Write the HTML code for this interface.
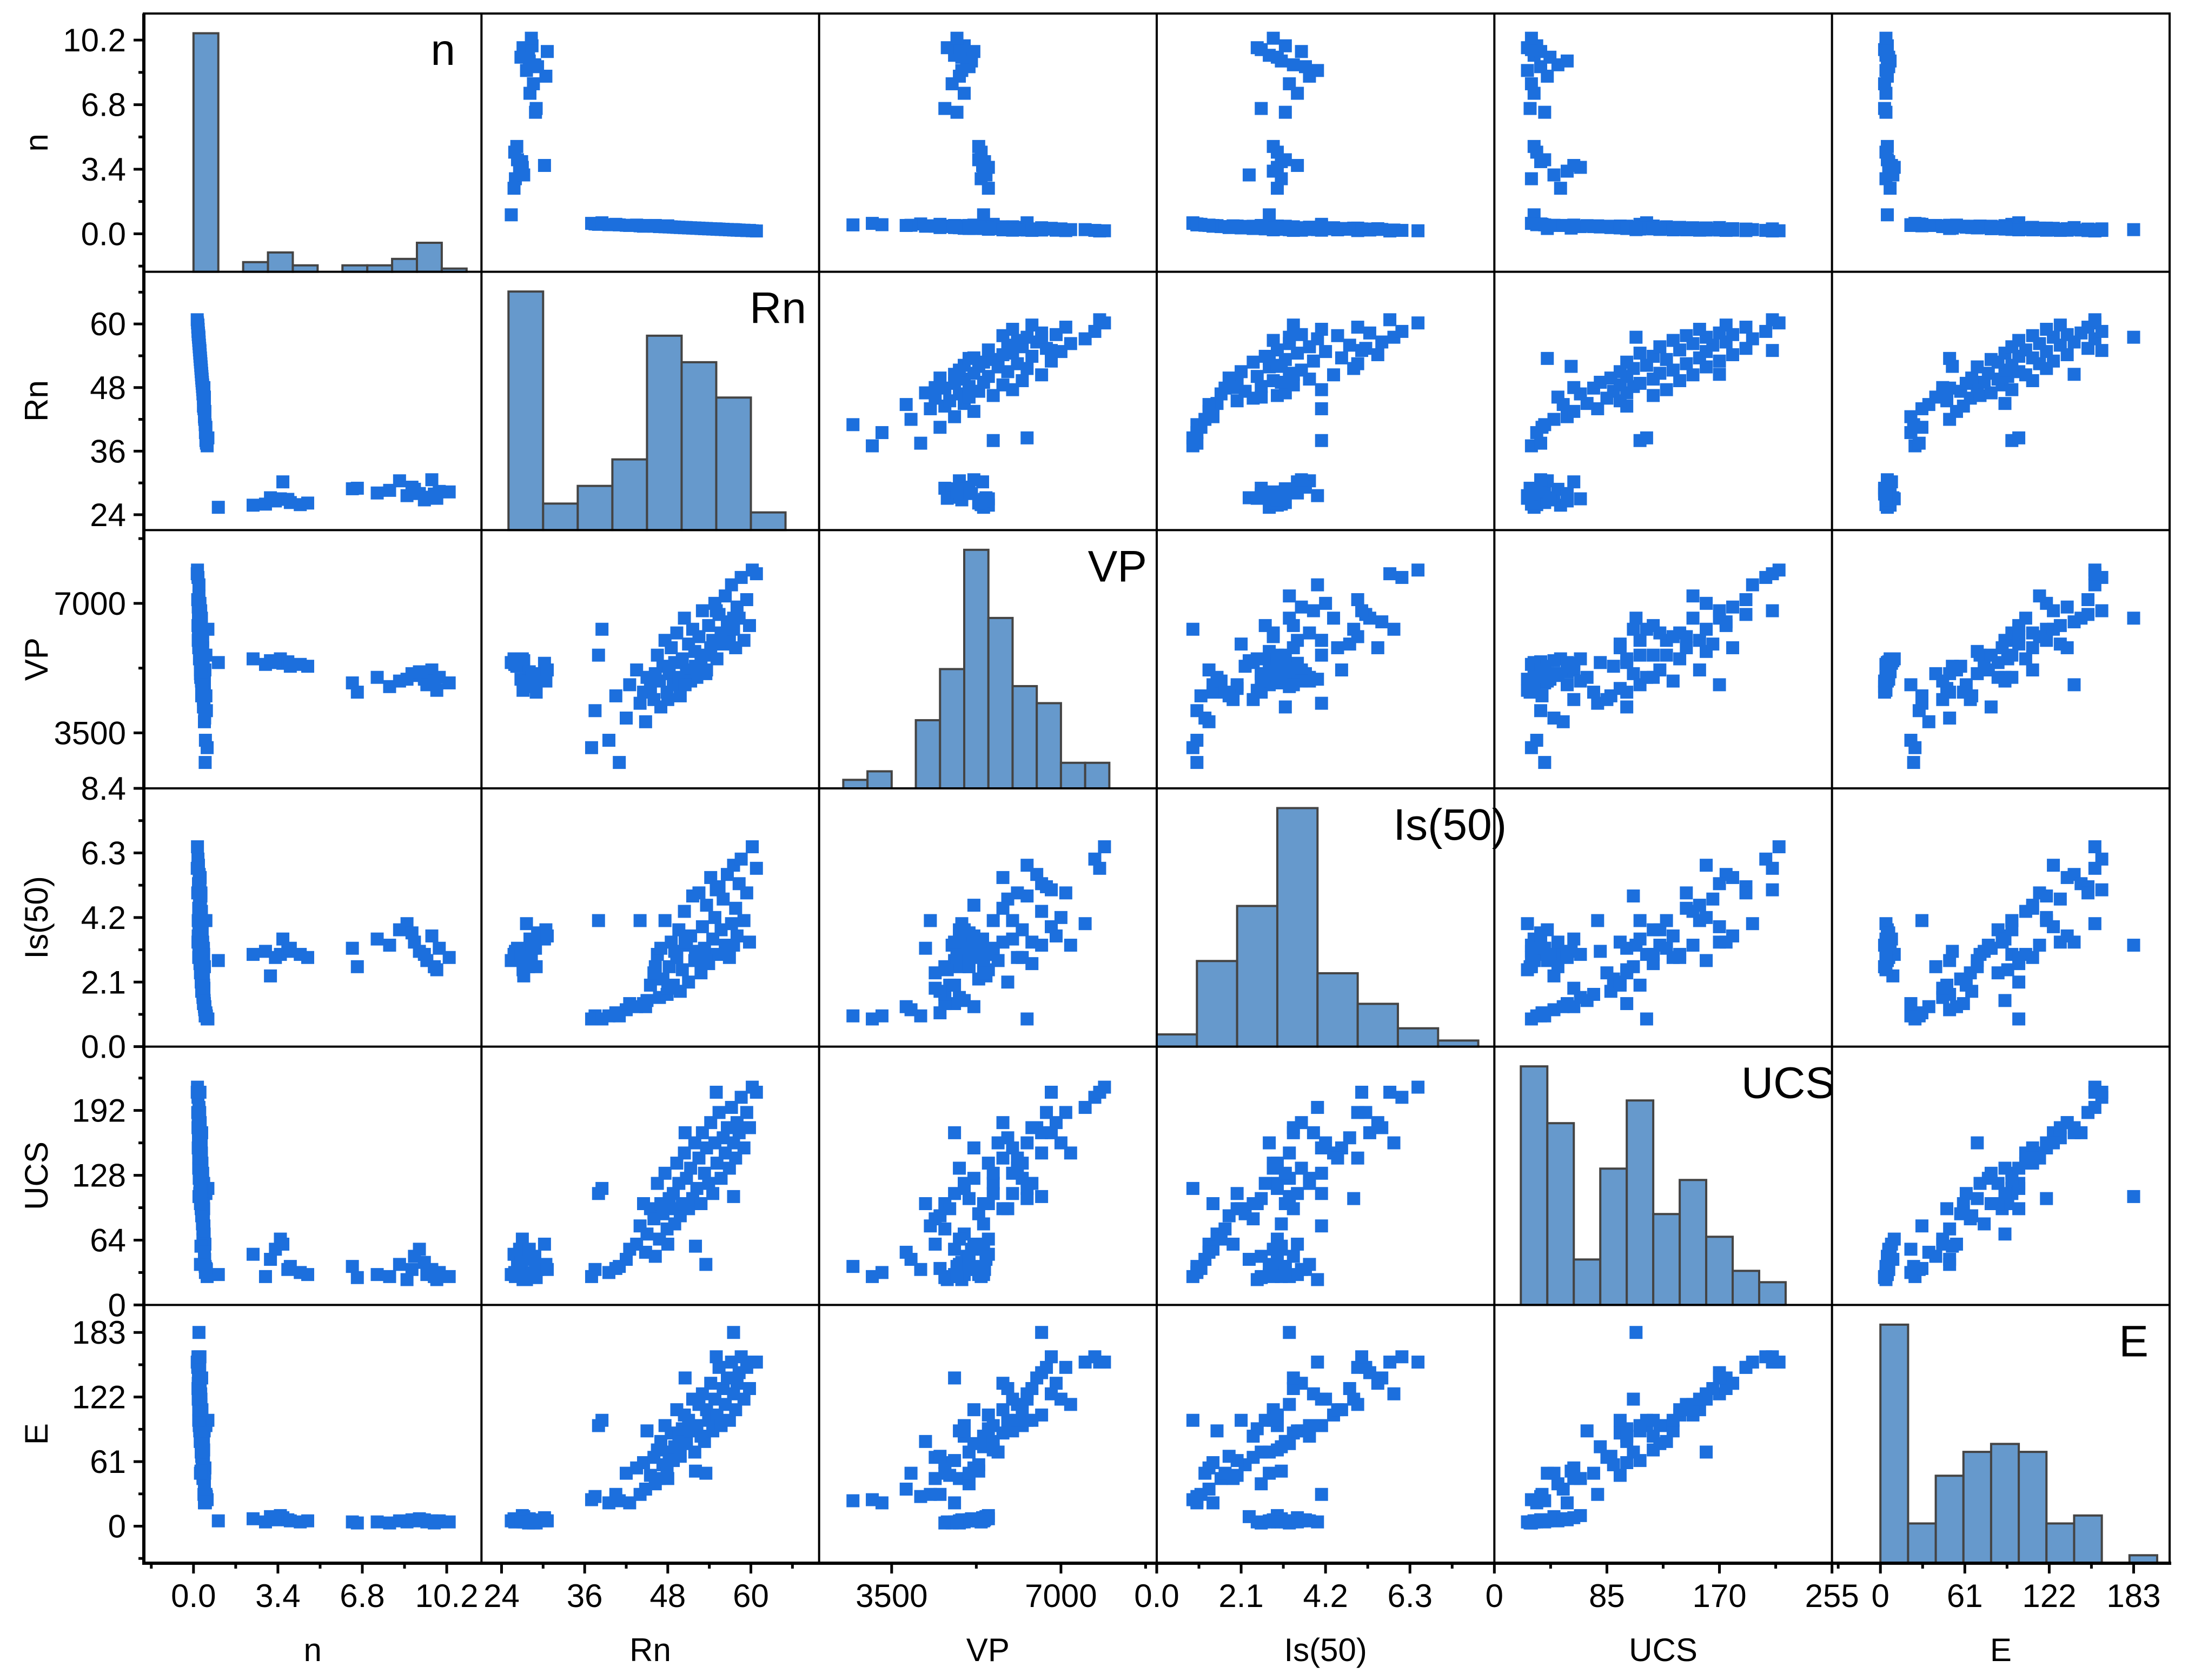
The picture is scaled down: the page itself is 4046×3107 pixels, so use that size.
<!DOCTYPE html>
<html><head><meta charset="utf-8"><title>Scatter matrix</title>
<style>
html,body{margin:0;padding:0;background:#fff;}
svg{display:block;font-family:"Liberation Sans",Arial,sans-serif;}
</style></head>
<body>
<svg id="chart" xmlns="http://www.w3.org/2000/svg" width="4046" height="3107" viewBox="0 0 4046 3107">
<rect x="0" y="0" width="4046" height="3107" fill="#fff"/>
</svg>
<script>
// ---- variables ----
const varNames = ["n","Rn","VP","Is(50)","UCS","E"];
// ---- sample values (group A then group B) ----
const nVals = [1.0,2.4,2.9,3.1,3.3,3.5,3.6,3.8,3.9,4.3,4.6,6.4,6.6,7.4,7.9,8.3,8.6,8.8,8.9,9.1,9.3,9.4,9.6,9.7,9.8,9.9,10.3,
0.55,0.52,0.50,0.58,0.48,0.50,0.47,0.45,0.44,0.46,0.42,0.40,0.43,0.41,0.40,0.41,0.38,0.40,0.39,0.37,0.38,0.36,0.37,0.35,0.36,0.34,0.35,0.33,0.34,0.32,0.33,0.31,0.32,0.30,0.31,0.29,0.30,0.28,0.29,0.27,0.28,0.26,0.27,0.25,0.26,0.24,0.25,0.23,0.24,0.22,0.23,0.21,0.22,0.20,0.21,0.19,0.20,0.18,0.19,0.17,0.18,0.16,0.15,0.44,0.42,0.30,0.28,0.26,0.33,0.44,0.22];
const rnVals = [25.4,25.8,26.0,27.2,26.6,27.0,30.2,26.9,26.3,25.9,26.2,28.9,29.0,28.1,28.6,30.4,27.6,29.2,28.8,28.0,26.8,27.3,30.6,27.9,27.1,28.4,28.3,
37.0,37.5,38.0,38.5,39.5,40.5,41.0,42.0,42.5,43.5,44.0,44.5,45.0,45.5,46.0,46.5,46.8,47.0,47.3,47.6,47.9,48.2,48.5,48.8,49.0,49.3,49.6,49.8,50.1,50.4,50.7,51.0,51.3,51.6,51.9,52.2,52.5,52.8,53.0,53.3,53.6,53.9,54.2,54.5,54.8,55.1,55.4,55.7,56.0,56.3,56.6,56.9,57.2,57.5,57.8,58.0,58.3,58.6,59.0,59.4,59.8,60.2,60.8,46.2,48.0,52.0,53.5,55.0,50.5,44.8,57.5];
const vpVals = [5400,5500,5350,5450,5400,5500,5380,5420,5300,5350,5300,4850,4600,5000,4750,4900,4950,5100,5050,5150,4950,4800,5200,4900,4650,5000,4850,
3100,4100,5600,6300,3300,4500,2700,3900,4800,5200,4300,4600,5000,4700,4400,5600,4900,4200,5300,6000,4600,5100,5800,4800,5400,6200,5000,4500,5500,6600,5200,5900,4900,6300,5700,5000,6100,5400,6800,5600,5200,6400,5800,6000,7000,5500,6700,6200,5900,7200,6500,6100,7500,6300,5800,6900,6600,7700,6000,7100,6400,7900,7800,5100,4400,5300,5100,6800,4800,3800,6600];
const isVals = [2.8,3.0,3.1,2.3,2.9,3.0,3.5,3.1,3.2,3.0,2.9,3.2,2.6,3.5,3.3,3.8,4.0,3.7,3.4,3.1,3.0,2.8,3.6,2.6,2.5,3.2,2.9,
0.9,1.0,4.1,0.9,1.0,1.1,1.0,1.2,1.4,1.3,4.1,1.4,1.5,2.0,2.4,3.0,1.6,3.2,2.2,4.1,1.7,2.6,3.4,2.0,3.1,2.9,3.8,1.8,2.5,4.4,3.3,2.1,3.6,4.9,2.8,3.0,5.0,2.4,3.9,3.2,4.6,2.7,5.5,3.5,4.2,3.0,5.2,3.8,4.8,3.3,5.6,2.9,4.0,5.9,4.5,3.6,5.3,6.1,4.1,5.0,3.4,6.5,5.8,2.6,1.9,3.1,2.8,5.1,3.4,1.3,3.3];
const ucsVals = [30,50,28,45,55,65,60,35,38,32,30,38,27,30,28,40,25,35,48,55,42,30,35,28,25,32,28,
28,35,110,115,32,36,38,45,55,60,78,100,70,95,85,120,65,100,90,130,75,105,95,110,80,140,120,88,100,150,125,95,135,105,160,115,145,100,170,130,155,120,180,110,160,140,190,125,165,150,175,135,195,160,145,180,170,205,155,190,175,215,210,48,60,58,40,210,170,52,107];
const eVals = [5,7,4,9,6,10,8,6,5,4,5,4,3,4,3,5,4,6,5,7,6,4,5,3,4,5,4,
25,28,95,100,22,30,24,50,22,55,30,60,90,48,65,72,45,80,58,95,50,70,88,62,75,110,85,66,92,105,78,100,90,120,70,95,115,85,125,80,110,100,135,90,120,105,150,95,130,115,140,100,155,125,110,135,145,160,120,150,130,155,155,40,45,52,50,160,140,35,183];
// ---- histogram data ----
const nHistStart = 0,   nHistWidth = 1,   nHistCounts = [74,0,3,6,2,0,2,2,4,9,1];
const rnHistStart = 25, rnHistWidth = 5,  rnHistCounts = [27,3,5,8,22,19,15,2];
const vpHistStart = 2500, vpHistWidth = 500, vpHistCounts = [1,2,0,8,14,28,20,12,10,3,3];
const isHistStart = 0,  isHistWidth = 1,  isHistCounts = [2,14,23,39,12,7,3,1];
const ucsHistStart = 20, ucsHistWidth = 20, ucsHistCounts = [21,16,4,12,18,8,11,6,3,2];
const eHistStart = 0,   eHistWidth = 20,  eHistCounts = [30,5,11,14,15,14,5,6,0,1];
// ---- axis ranges and ticks ----
const axisMin = [-2.0, 21.1, 2000, 0, 0, -35];
const axisMax = [11.6, 69.85, 8980, 8.4, 255, 209];
const nTicks = ["0.0","3.4","6.8","10.2"];
const rnTicks = ["24","36","48","60"];
const vpTicks = ["3500","7000"];
const isTicksY = ["0.0","2.1","4.2","6.3","8.4"];
const isTicksX = ["0.0","2.1","4.2","6.3"];
const ucsTicksY = ["0","64","128","192"];
const ucsTicksX = ["0","85","170","255"];
const eTicks = ["0","61","122","183"];

const SVGNS = "http://www.w3.org/2000/svg";
const svg = document.getElementById("chart");
const X0 = 266, Y0 = 25, CW = (4012-266)/6, RH = (2891-25)/6;
const HIST_TOP = 36.5;
const MS = 24;
const data = [nVals, rnVals, vpVals, isVals, ucsVals, eVals];
const hists = [
  [nHistStart,nHistWidth,nHistCounts],[rnHistStart,rnHistWidth,rnHistCounts],
  [vpHistStart,vpHistWidth,vpHistCounts],[isHistStart,isHistWidth,isHistCounts],
  [ucsHistStart,ucsHistWidth,ucsHistCounts],[eHistStart,eHistWidth,eHistCounts]];
const yTickSets = [nTicks, rnTicks, vpTicks, isTicksY, ucsTicksY, eTicks];
const xTickSets = [nTicks, rnTicks, vpTicks, isTicksX, ucsTicksX, eTicks];
const labelRight = [842, 1491, 2121, 2786, 3393, 3973];

function el(tag, attrs, parent){
  const e = document.createElementNS(SVGNS, tag);
  for (const k in attrs) e.setAttribute(k, attrs[k]);
  (parent||svg).appendChild(e);
  return e;
}
function xScale(v, c){ return X0 + c*CW + (v-axisMin[c])/(axisMax[c]-axisMin[c])*CW; }
function yScale(v, r){ return Y0 + (r+1)*RH - (v-axisMin[r])/(axisMax[r]-axisMin[r])*RH; }

const N = Math.min(...data.map(a=>a.length));

for (let r=0;r<6;r++){
  for (let c=0;c<6;c++){
    const g = el("g", {});
    
    
    if (r===c){
      const [st, w, counts] = hists[c];
      const mx = Math.max(...counts);
      counts.forEach((cnt,i)=>{
        if (cnt<=0) return;
        const xa = xScale(st+i*w, c), xb = xScale(st+(i+1)*w, c);
        const h = cnt/mx*(RH-HIST_TOP);
        const bar = el("rect", {x:xa, y:Y0+(r+1)*RH-h, width:xb-xa, height:h, fill:"#6699cc", stroke:"#444", "stroke-width":4}, g);
        
        
      });
      const t = el("text", {x:labelRight[c], y:Y0+r*RH+95, "text-anchor":"end", "font-size":82, fill:"#000"}, g);
      t.textContent = varNames[c];
      
      
    } else {
      for (let i=0;i<N;i++){
        const px = xScale(data[c][i], c), py = yScale(data[r][i], r);
        const p = el("rect", {x:px-MS/2, y:py-MS/2, width:MS, height:MS, fill:"#1c6fdd"}, g);
        
        
      }
    }
  }
}
// grid lines
for (let i=1;i<6;i++){
  const lv = el("line", {x1:X0+i*CW, y1:Y0, x2:X0+i*CW, y2:Y0+6*RH, stroke:"#000","stroke-width":4});
  
  
  const lh = el("line", {x1:X0, y1:Y0+i*RH, x2:X0+6*CW, y2:Y0+i*RH, stroke:"#000","stroke-width":4});
  
  
}
const frame = el("rect", {x:X0, y:Y0, width:6*CW, height:6*RH, fill:"none", stroke:"#000", "stroke-width":4});


const lAxis = el("line", {x1:X0, y1:Y0, x2:X0, y2:Y0+6*RH+3, stroke:"#000","stroke-width":6});


const bAxis = el("line", {x1:X0-3, y1:Y0+6*RH, x2:X0+6*CW+3, y2:Y0+6*RH, stroke:"#000","stroke-width":6});



// ticks
for (let k=0;k<6;k++){
  const yt = yTickSets[k];
  const vals = yt.map(Number);
  const step = vals.length>1 ? vals[1]-vals[0] : 0;
  const minors = [];
  for (let m=vals[0]-step/2; m<=axisMax[k]+1e-9; m+=step) minors.push(m);
  minors.forEach(m=>{
    if (m<axisMin[k]-1e-9) return;
    const y = yScale(m,k);
    const tk = el("line", {x1:X0-10, y1:y, x2:X0, y2:y, stroke:"#000","stroke-width":5});
    
    
  });
  yt.forEach((lab,i)=>{
    const y = yScale(vals[i],k);
    const tk = el("line", {x1:X0-19, y1:y, x2:X0, y2:y, stroke:"#000","stroke-width":5});
    
    
    const t = el("text", {x:233, y:y+21, "text-anchor":"end", "font-size":60, fill:"#000"});
    t.textContent = lab;
    
    
  });
  const yTitle = el("text", {x:0, y:0, "text-anchor":"middle", "font-size":60, fill:"#000",
    transform:"translate(88," + (Y0+(k+0.5)*RH) + ") rotate(-90)"});
  yTitle.textContent = varNames[k];
  
  

  const xt = xTickSets[k];
  const xv = xt.map(Number);
  const xs = xv.length>1 ? xv[1]-xv[0] : 0;
  const by = Y0+6*RH;
  for (let m=xv[0]-xs/2; m<=axisMax[k]+1e-9; m+=xs){
    if (m<axisMin[k]-1e-9) continue;
    if (xt.some((_,i)=>Math.abs(xv[i]-m)<1e-9)) continue;
    const x = xScale(m,k);
    const tk = el("line", {x1:x, y1:by, x2:x, y2:by+10, stroke:"#000","stroke-width":5});
    
    
  }
  xt.forEach((lab,i)=>{
    const x = xScale(xv[i],k);
    const tk = el("line", {x1:x, y1:by, x2:x, y2:by+19, stroke:"#000","stroke-width":5});
    
    
    const t = el("text", {x:x, y:2972, "text-anchor":"middle", "font-size":60, fill:"#000"});
    t.textContent = lab;
    
    
  });
  const xTitle = el("text", {x:X0+(k+0.5)*CW, y:3072, "text-anchor":"middle", "font-size":60, fill:"#000"});
  xTitle.textContent = varNames[k];
  
  
}
</script>
</body></html>
